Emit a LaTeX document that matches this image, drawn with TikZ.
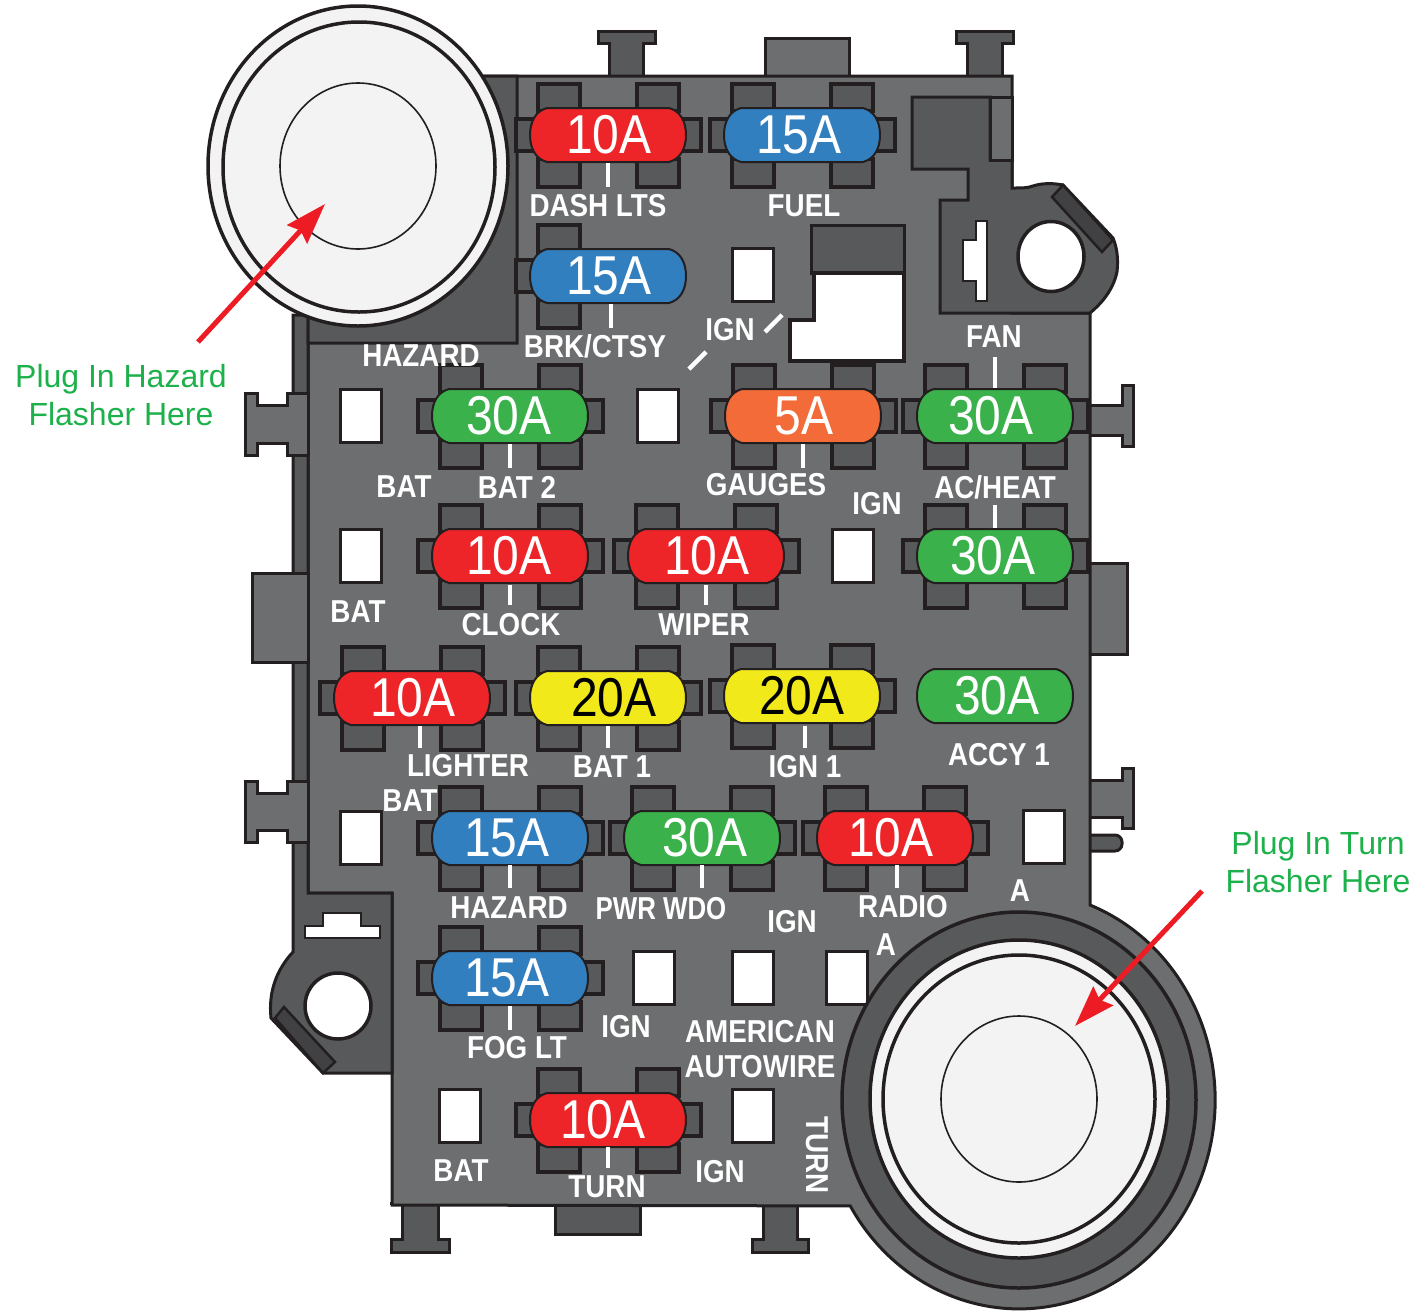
\documentclass[tikz,border=0pt]{standalone}
\usepackage{fontspec}
\setmainfont{Liberation Sans}
\usetikzlibrary{arrows.meta}
\definecolor{hous}{HTML}{6D6E70}
\definecolor{dk}{HTML}{58595B}
\definecolor{bar}{HTML}{414042}
\definecolor{ink}{HTML}{231F20}
\definecolor{pale}{HTML}{F3F3F3}
\definecolor{fred}{HTML}{ED2428}
\definecolor{fblue}{HTML}{327FBF}
\definecolor{fgreen}{HTML}{3AB14A}
\definecolor{forange}{HTML}{F36B38}
\definecolor{fyellow}{HTML}{F2E91A}
\definecolor{note}{HTML}{1DB14B}
\definecolor{arrowred}{HTML}{ED1C24}
\tikzset{
  edge/.style={draw=ink,line width=3pt,line join=miter},
  lightpart/.style={edge,fill=hous},
  darkpart/.style={edge,fill=dk},
  socket/.style={draw=ink,line width=3.4pt,fill=dk},
  hole/.style={draw=ink,line width=3.5pt,fill=white},
  fuseedge/.style={draw=ink,line width=2pt},
  ampfont/.style={inner sep=0pt,font=\fontsize{48}{48}\selectfont},
  tag/.style={inner sep=0pt,text=white,font=\fontsize{27.8}{27.8}\selectfont\bfseries},
  notefont/.style={inner sep=0pt,text=note,font=\fontsize{32}{38}\selectfont,align=center},
  tick/.style={draw=white,line width=4.5pt},
  pointer/.style={draw=arrowred,line width=5pt,-{Stealth[length=41pt,width=27pt,inset=5pt]}}
}
\newcommand\socketsfull[2]{\begin{scope}[shift={(#1,#2)}]
  \draw[socket] (-92,-16) rectangle (93,16);
  \draw[socket] (-70,-51) rectangle (-28,-24);
  \draw[socket] (29,-51) rectangle (71,-24);
  \draw[socket] (-70,24) rectangle (-28,52);
  \draw[socket] (29,24) rectangle (71,52);
\end{scope}}
\newcommand\socketsleft[2]{\begin{scope}[shift={(#1,#2)}]
  \draw[socket] (-92,-16) rectangle (-40,16);
  \draw[socket] (-70,-51) rectangle (-28,-24);
  \draw[socket] (-70,24) rectangle (-28,52);
\end{scope}}
% name, x, y, colour, text, text colour, text offset
\newcommand\fuse[7]{\begin{scope}[shift={(#2,#3)}]
  \path[fuseedge,fill=#4] (-61,-27) -- (61,-27)
    .. controls (72,-24) and (78,-14) .. (78,0)
    .. controls (78,14) and (72,24) .. (61,27) -- (-61,27)
    .. controls (-72,24) and (-78,14) .. (-78,0)
    .. controls (-78,-14) and (-72,-24) .. (-61,-27) -- cycle;
  \node[ampfont,text=#6] (#1) at (#7,0) {\scalebox{1}[1.14]{#5}};
\end{scope}}
\newcommand\tagtext[4]{\node[tag] (#1) at (#2,#3) {\scalebox{1}[1.14]{#4}};}
\newcommand\window[3]{\node[hole,minimum width=41pt,minimum height=53pt,inner sep=0pt,anchor=center] (#1) at (#2,#3) {};}
\begin{document}
\begin{tikzpicture}[x=1pt,y=-1pt]
\useasboundingbox (0,0) rectangle (1411,1310);
\fill[white] (0,0) rectangle (1411,1310);
% clips behind the housing
\draw[darkpart] (598,31) -- (655,31) -- (655,43) -- (643,43) -- (643,78) -- (609,78) -- (609,43) -- (598,43) -- cycle;
\draw[darkpart] (956,31) -- (1013,31) -- (1013,43) -- (1002,43) -- (1002,78) -- (967,78) -- (967,43) -- (956,43) -- cycle;
\draw[lightpart] (765,78) -- (765,38) -- (849,38) -- (849,78) -- cycle;
\draw[lightpart] (1088,405) -- (1122,405) -- (1122,385) -- (1133,385) -- (1133,446) -- (1122,446) -- (1122,435) -- (1088,435) -- cycle;
\draw[lightpart] (1088,563) -- (1127,563) -- (1127,654) -- (1088,654) -- cycle;
\draw[lightpart] (1088,780) -- (1122,780) -- (1122,768) -- (1133,768) -- (1133,828) -- (1122,828) -- (1122,817) -- (1088,817) -- cycle;
\draw[darkpart,rounded corners=7pt] (1088,835) -- (1122,835) -- (1122,851) -- (1088,851);
\draw[darkpart] (390,1203) -- (402,1203) -- (402,1239) -- (391,1239) -- (391,1252) -- (449,1252) -- (449,1239) -- (438,1239) -- (438,1203);
\draw[darkpart] (555,1203) -- (555,1234) -- (640,1234) -- (640,1203);
\draw[darkpart] (763,1203) -- (763,1239) -- (752,1239) -- (752,1252) -- (808,1252) -- (808,1239) -- (797,1239) -- (797,1203);
% housing
\draw[lightpart] (308,76) -- (1012,76) -- (1012,190) -- (1012,313) -- (1090,313) -- (1090,905)
  arc[start angle=-68.8,end angle=149.5,x radius=196,y radius=209]
  -- (392,1205) -- (392,893) -- (308,893) -- cycle;
% left strip and lower-left lug
\draw[darkpart] (293,315) -- (308,315) -- (308,893) -- (392,893) -- (392,1073) -- (323,1073) -- (271,1018)
  .. controls (268,990) and (278,968) .. (293,952) -- cycle;
\draw[edge,fill=white,line width=2pt] (305,938) -- (305,926) -- (323,926) -- (323,913) -- (361,913) -- (361,926) -- (380,926) -- (380,938) -- cycle;
\draw[hole] (338,1006) circle[radius=33];
\draw[edge,fill=bar,line width=2.5pt] (275,1018) -- (284,1007) -- (335,1062) -- (323,1073) -- cycle;
% left clips over the strip
\draw[lightpart] (308,393) -- (287,393) -- (287,405) -- (257,405) -- (257,393) -- (245,393) -- (245,455) -- (257,455) -- (257,443) -- (287,443) -- (287,455) -- (308,455) -- cycle;
\draw[lightpart] (308,781) -- (287,781) -- (287,793) -- (257,793) -- (257,781) -- (245,781) -- (245,842) -- (257,842) -- (257,830) -- (287,830) -- (287,842) -- (308,842) -- cycle;
\draw[lightpart] (308,573) -- (252,573) -- (252,662) -- (308,662) -- cycle;
% dark block under the hazard flasher
\draw[darkpart] (400,76) -- (517,76) -- (517,343) -- (308,343) -- (308,250) -- cycle;
% top right recess and mounting lug, one dark shape
\draw[darkpart] (912,97) -- (990,97) -- (990,160) -- (1012,160) -- (1012,188)
  .. controls (1022,188) and (1028,188) .. (1033,186) .. controls (1042,183) and (1053,183) .. (1063,185)
  -- (1113,238) .. controls (1118,250) and (1118,262) .. (1117,272) .. controls (1113,290) and (1102,303) .. (1090,313)
  -- (940,313) -- (940,200) -- (968,200) -- (968,169) -- (912,169) -- cycle;
\draw[edge,fill=hous] (990,97) rectangle (1012,160);
\draw[edge,fill=bar,line width=2.5pt] (1063,185) -- (1052,197) -- (1102,252) -- (1113,240) -- cycle;
\draw[hole] (1051,256.5) circle[x radius=33,y radius=35];
\draw[edge,fill=white,line width=2pt] (976,221) -- (987,221) -- (987,301) -- (976,301) -- (976,281) -- (963,281) -- (963,240) -- (976,240) -- cycle;
\draw[darkpart] (811,225) rectangle (904,273);
\draw[hole] (814,273) -- (904,273) -- (904,361) -- (790,361) -- (790,320) -- (814,320) -- cycle;
% hazard flasher
\draw[draw=ink,line width=3.5pt,fill=pale] (358,166) ellipse[x radius=150,y radius=160];
\draw[draw=ink,line width=3.5pt,fill=pale] (359,167) ellipse[x radius=136,y radius=145];
\draw[draw=ink,line width=1.6pt,fill=pale] (358,166) ellipse[x radius=78,y radius=83];
% windows
\window{w1}{753}{275}
\window{w2}{361}{416}
\window{w3}{658}{416}
\window{w4}{361}{556}
\window{w5}{853}{556}
\window{w6}{361}{838}
\window{w7}{1044}{837}
\window{w8}{654}{978}
\window{w9}{753}{978}
\window{w10}{847}{978}
\window{w11}{460}{1116}
\window{w12}{753}{1116}
% turn flasher
\draw[draw=ink,line width=3.5pt,fill=dk] (1019,1100) ellipse[x radius=177,y radius=188];
\draw[draw=ink,line width=3.5pt,fill=pale] (1019,1099) ellipse[x radius=149,y radius=159];
\draw[draw=ink,line width=3.5pt,fill=pale] (1019,1099) ellipse[x radius=136,y radius=144];
\draw[draw=ink,line width=1.6pt,fill=pale] (1019,1099) ellipse[x radius=78,y radius=83];
% sockets
\socketsfull{608}{135}
\socketsfull{802}{135}
\socketsleft{608}{276}
\socketsfull{510}{416}
\socketsfull{803}{416}
\socketsfull{995}{416}
\socketsfull{510}{556}
\socketsfull{706}{556}
\socketsfull{995}{556}
\socketsfull{412}{698}
\socketsfull{608}{698}
\socketsfull{802}{696}
\socketsfull{510}{838}
\socketsfull{702}{838}
\socketsfull{895}{838}
\socketsfull{510}{978}
\socketsfull{608}{1120}
% fuses
\fuse{fa}{608}{135}{fred}{10A}{white}{1}
\fuse{fb}{802}{135}{fblue}{15A}{white}{-3}
\fuse{fc}{608}{276}{fblue}{15A}{white}{1}
\fuse{fd}{510}{416}{fgreen}{30A}{white}{-1}
\fuse{fe}{803}{416}{forange}{5A}{white}{1}
\fuse{ff}{995}{416}{fgreen}{30A}{white}{-4}
\fuse{fg}{510}{556}{fred}{10A}{white}{-1}
\fuse{fh}{706}{556}{fred}{10A}{white}{1}
\fuse{fi}{995}{556}{fgreen}{30A}{white}{-2}
\fuse{fj}{412}{698}{fred}{10A}{white}{1}
\fuse{fk}{608}{698}{fyellow}{20A}{black}{6}
\fuse{fl}{802}{696}{fyellow}{20A}{black}{0}
\fuse{fm}{995}{696}{fgreen}{30A}{white}{2}
\fuse{fn}{510}{838}{fblue}{15A}{white}{-3}
\fuse{fo}{702}{838}{fgreen}{30A}{white}{3}
\fuse{fp}{895}{838}{fred}{10A}{white}{-4}
\fuse{fq}{510}{978}{fblue}{15A}{white}{-3}
\fuse{fr}{608}{1120}{fred}{10A}{white}{-5}
% ticks
\draw[tick] (608,163) -- (608,187);
\draw[tick] (611,304) -- (611,328);
\draw[tick] (510,444) -- (510,468);
\draw[tick] (803,444) -- (803,468);
\draw[tick] (995,357) -- (995,388);
\draw[tick] (995,505) -- (995,528);
\draw[tick] (510,585) -- (510,605);
\draw[tick] (706,585) -- (706,605);
\draw[tick] (420,726) -- (420,748);
\draw[tick] (608,726) -- (608,748);
\draw[tick] (805,726) -- (805,748);
\draw[tick] (510,865) -- (510,888);
\draw[tick] (702,865) -- (702,888);
\draw[tick] (897,865) -- (897,888);
\draw[tick] (510,1006) -- (510,1030);
\draw[tick] (608,1147) -- (608,1168);
\draw[tick] (765,332) -- (782,315);
\draw[tick] (689,369) -- (706,352);
% labels
\tagtext{l1}{598}{206}{DASH LTS}
\tagtext{l2}{804}{206}{FUEL}
\tagtext{l3}{595}{346}{BRK/CTSY}
\tagtext{l4}{730}{330}{IGN}
\tagtext{l5}{421}{356}{HAZARD}
\tagtext{l6}{994}{337}{FAN}
\tagtext{l7}{404}{487}{BAT}
\tagtext{l8}{517}{487}{BAT 2}
\tagtext{l9}{766}{485}{GAUGES}
\tagtext{l10}{877}{504}{IGN}
\tagtext{l11}{995}{487}{AC/HEAT}
\tagtext{l12}{358}{612}{BAT}
\tagtext{l13}{511}{625}{CLOCK}
\tagtext{l14}{704}{625}{WIPER}
\tagtext{l15}{468}{766}{LIGHTER}
\tagtext{l16}{612}{767}{BAT 1}
\tagtext{l17}{805}{767}{IGN 1}
\tagtext{l18}{999}{755}{ACCY 1}
\tagtext{l19}{410}{801}{BAT}
\tagtext{l20}{509}{908}{HAZARD}
\node[tag] (l21) at (661,909) {\scalebox{0.93}[1.14]{PWR WDO}};
\tagtext{l22}{792}{922}{IGN}
\tagtext{l23}{903}{907}{RADIO}
\tagtext{l24}{1020}{891}{A}
\tagtext{l25}{886}{945}{A}
\tagtext{l26}{517}{1048}{FOG LT}
\tagtext{l27}{626}{1027}{IGN}
\tagtext{l28}{760}{1032}{AMERICAN}
\tagtext{l29}{760}{1067}{AUTOWIRE}
\tagtext{l30}{461}{1171}{BAT}
\tagtext{l31}{607}{1187}{TURN}
\tagtext{l32}{720}{1172}{IGN}
\node[tag,rotate=-90] (l33) at (817,1155) {\scalebox{1}[1.14]{TURN}};
% notes and arrows
\node[notefont] (n1) at (121,395) {Plug In Hazard\\Flasher Here};
\node[notefont] (n2) at (1318,862) {Plug In Turn\\Flasher Here};
\coordinate (a1s) at (198,342);
\coordinate (a1e) at (325,204);
\coordinate (a2s) at (1202,891);
\coordinate (a2e) at (1075,1026);
\draw[pointer] (a1s) -- (a1e);
\draw[pointer] (a2s) -- (a2e);
\end{tikzpicture}
\end{document}
